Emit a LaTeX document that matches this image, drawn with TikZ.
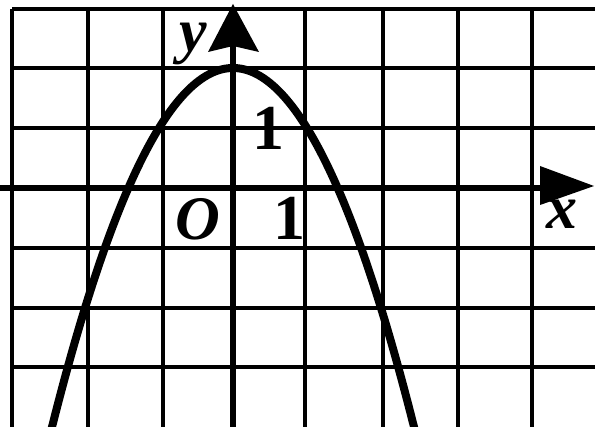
\documentclass[tikz,border=0pt]{standalone}
\usepackage{fontspec}
\setmainfont{Liberation Serif}
\begin{document}
\begin{tikzpicture}[x=1pt,y=-1pt,
  gridline/.style={line width=3.5pt,black},
  axisline/.style={line width=6.5pt,black},
  curve/.style={line width=8pt,black},
  lbl/.style={font=\fontsize{62}{62}\selectfont\bfseries\itshape,inner sep=0pt},
  num/.style={font=\fontsize{64}{64}\selectfont\bfseries,inner sep=0pt}]
\useasboundingbox (0,0) rectangle (595,427);
\begin{scope}
\clip (0,0) rectangle (595,427);
% grid
\foreach \gx in {12,88,163,305,383,458,532}
  \draw[gridline] (\gx,9) -- (\gx,430);
\foreach \gy in {9,68,128,248,308,367}
  \draw[gridline] (12,\gy) -- (600,\gy);
% axes
\draw[axisline] (0,188) -- (545,188);
\draw[axisline] (233,430) -- (233,40);
\fill (540,166) -- (594,186) -- (540,205) -- cycle;
\fill (233,4) -- (259,52) -- (233,46) -- (208,52) -- cycle;
% parabola y = 2 - x^2
\draw[curve,domain=-2.6:2.6,samples=80,smooth]
  plot ({233+74*\x},{188-60*(2-\x*\x)});
\end{scope}
% labels
\node[lbl,anchor=base] (ylab) at (193,52) {y};
\node[lbl] (xlab) at (562,214) {x};
\node[lbl] (olab) at (198,219) {O};
\node[num] (one1) at (268,128) {1};
\node[num] (one2) at (289,218) {1};
\end{tikzpicture}
\end{document}
